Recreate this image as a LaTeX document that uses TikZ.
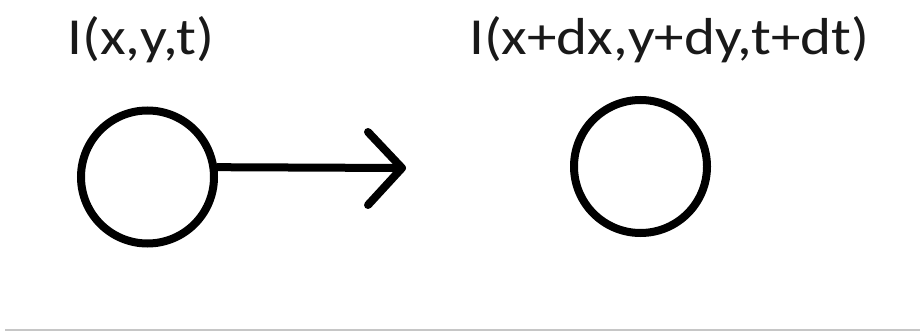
\documentclass[tikz,border=0pt]{standalone}
\usepackage{fontspec}
\setmainfont{Carlito}
\begin{document}
\begin{tikzpicture}[x=1pt,y=-1pt,
  lbl/.style={anchor=base west,inner sep=0pt,font=\fontsize{52}{60}\selectfont,text=black!90},
  ring/.style={circle,draw=black,line width=8pt,inner sep=0pt,minimum size=133pt},
  shaft/.style={draw=black,line width=8pt,line cap=round,line join=round}]
\useasboundingbox (0,0) rectangle (920,331);
\fill[white] (0,0) rectangle (920,331);
\node[lbl] (t1) at (67,55) {\scalebox{1.14}[1]{I(x,y,t)}};
\node[lbl] (t2) at (469,55) {\scalebox{1.135}[1]{I(x+dx,y+dy,t+dt)}};
\node[ring] (c1) at (147.5,177) {};
\node[ring] (c2) at (640.5,166.5) {};
\coordinate (tip) at (402,168);
\coordinate (armA) at (368,132);
\coordinate (armB) at (368,205);
\draw[shaft] (c1.8) -- (tip);
\draw[shaft] (armA) -- (tip) -- (armB);
\coordinate (gl) at (5,330);
\coordinate (gr) at (920,330);
\draw[gray!45,line width=1.5pt] (gl) -- (gr);
\end{tikzpicture}
\end{document}
